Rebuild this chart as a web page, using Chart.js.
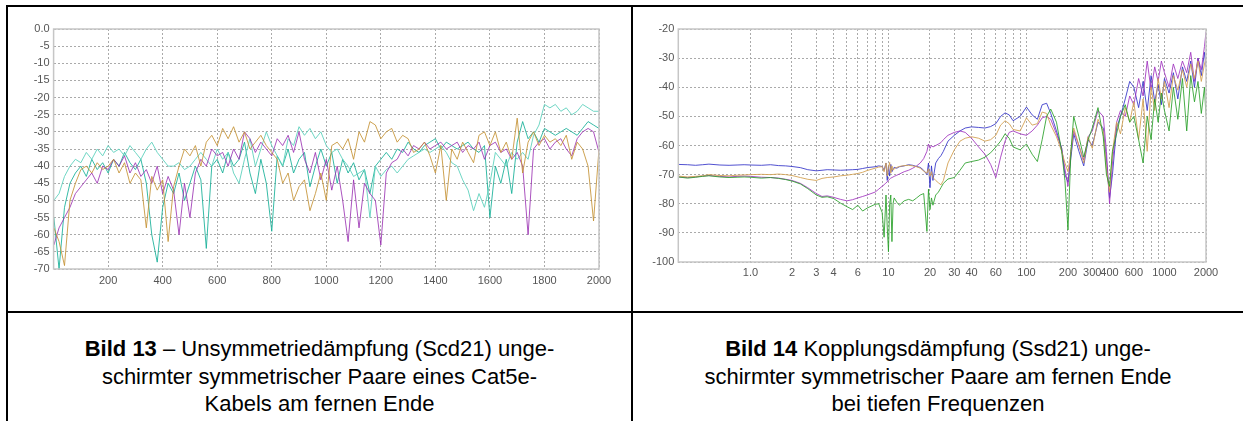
<!DOCTYPE html>
<html>
<head>
<meta charset="utf-8">
<script src="https://cdn.jsdelivr.net/npm/chart.js@4/dist/chart.umd.min.js"></script>
<style>
  body { margin: 0; background: #fff; width: 1243px; height: 421px; overflow: hidden; position: relative; font-family: "Liberation Sans", Arial, sans-serif; }
  .ln { position: absolute; background: #000; }
  canvas { position: absolute; }
  .cap { position: absolute; text-align: center; font-size: 22px; line-height: 27.5px; color: #000; }
</style>
</head>
<body>
<div class="ln" style="left:6px;top:5px;width:1237px;height:2px"></div>
<div class="ln" style="left:6px;top:5px;width:2px;height:416px"></div>
<div class="ln" style="left:631px;top:5px;width:2px;height:416px"></div>
<div class="ln" style="left:6px;top:311px;width:1237px;height:2px"></div>

<canvas id="scdChart" width="622" height="304" style="left:8px;top:7px"></canvas>
<canvas id="ssdChart" width="610" height="304" style="left:633px;top:7px"></canvas>

<div class="cap" style="left:8px;top:335px;width:623px"><b>Bild 13</b> – Unsymmetriedämpfung (Scd21) unge-<br>schirmter symmetrischer Paare eines Cat5e-<br>Kabels am fernen Ende</div>
<div class="cap" style="left:633px;top:335px;width:610px"><b>Bild 14</b> Kopplungsdämpfung (Ssd21) unge-<br>schirmter symmetrischer Paare am fernen Ende<br>bei tiefen Frequenzen</div>

<script>
// Bild 13: Scd21, MHz (linear)
var scdFreq = [1,20,40,60,80,100,120,140,160,180,200,220,240,260,280,300,320,340,360,380,400,420,440,460,480,500,520,540,560,580,600,620,640,660,680,700,720,740,760,780,800,820,840,860,880,900,920,940,960,980,1000,1020,1040,1060,1080,1100,1120,1140,1160,1180,1200,1220,1240,1260,1280,1300,1320,1340,1360,1380,1400,1420,1440,1460,1480,1500,1520,1540,1560,1580,1600,1620,1640,1660,1680,1700,1720,1740,1760,1780,1800,1820,1840,1860,1880,1900,1920,1940,1960,1980,2000];
var scdGold = [-58,-62,-69,-50,-45,-41,-40,-42,-39,-41,-40,-38,-42,-39,-45,-42,-44,-58,-43,-47,-44,-62,-46,-40,-35,-37,-34,-40,-33,-31,-34,-29,-32,-28.5,-33,-30,-35,-33,-31,-34,-36,-38,-45,-42,-50,-46,-44,-53,-48,-42,-50,-34,-33,-35,-32,-38,-30,-33,-27,-28,-32,-30,-29,-33,-31,-32,-36,-35,-33,-37,-42,-34,-50,-35,-38,-33,-36,-39,-31,-30,-34,-30,-36,-33,-38,-26,-42,-33,-30,-34,-31,-33,-32,-34,-31,-38,-33,-35,-40,-56,-35];
var scdPurple = [-63,-58,-55,-52,-48,-46,-44,-42,-45,-40,-41,-38,-40,-37,-42,-39,-43,-41,-45,-40,-48,-43,-47,-60,-45,-55,-42,-38,-40,-35,-37,-36,-40,-35,-38,-30,-32,-36,-33,-35,-37,-32,-34,-31,-36,-30,-38,-42,-36,-44,-38,-47,-40,-50,-62,-44,-58,-45,-48,-50,-63,-42,-39,-38,-35,-37,-34,-35,-33,-35,-34,-33,-35,-34,-33,-36,-34,-35,-33,-38,-34,-33,-36,-35,-38,-36,-40,-60,-35,-33,-32,-35,-33,-32,-35,-37,-32,-30,-29,-30,-36];
var scdTeal = [-55,-70,-52,-45,-42,-40,-43,-38,-41,-39,-42,-38,-40,-36,-39,-41,-38,-45,-60,-68,-52,-45,-48,-42,-50,-45,-40,-44,-64,-40,-38,-42,-36,-40,-38,-33,-42,-48,-38,-45,-59,-37,-40,-35,-42,-38,-36,-46,-40,-35,-40,-36,-45,-38,-42,-39,-44,-41,-48,-40,-38,-36,-38,-35,-36,-33,-35,-36,-34,-33,-32,-35,-33,-34,-35,-34,-33,-35,-36,-34,-55,-40,-45,-38,-48,-33,-27,-32,-30,-33,-29,-30,-31,-30,-29,-30,-31,-29,-27,-28,-29];
var scdAqua = [-50,-48,-43,-40,-38,-39,-36,-38,-35,-37,-34,-36,-35,-37,-34,-36,-38,-35,-33,-36,-38,-40,-40,-39,-41,-40,-38,-36,-38,-40,-35,-38,-36,-42,-45,-38,-32,-40,-35,-30,-34,-37,-40,-32,-34,-28.5,-31,-29,-32,-30,-34,-36,-35,-38,-40,-43,-42,-41,-55,-40,-43,-41,-40,-42,-40,-38,-37,-36,-35,-36,-35,-34,-36,-39,-40,-44,-47,-53,-48,-52,-45,-36,-38,-40,-36,-38,-36,-38,-31,-28,-22,-23,-22,-24,-23,-25,-24,-22,-23,-24,-24];
var scdYTicks = [0,-5,-10,-15,-20,-25,-30,-35,-40,-45,-50,-55,-60,-65,-70];

// Bild 14: Ssd21, MHz (logarithmisch)
var ssdFreq = [0.3,0.35,0.4,0.45,0.5,0.6,0.7,0.8,0.9,1.0,1.2,1.4,1.6,1.8,2.0,2.3,2.6,3.0,3.3,3.6,4.0,4.5,5.0,5.5,6.0,6.5,7.0,8.0,8.5,9.0,9.3,9.6,9.8,10,10.2,10.4,10.6,10.8,11,11.5,12,13,14,15,16,17,18,19,19.5,20,20.5,21,22,23,24,25,27,30,33,36,40,45,50,55,60,65,70,75,80,90,100,110,120,130,140,150,165,180,190,200,210,220,240,260,280,300,330,360,380,400,420,450,480,520,560,600,650,700,750,800,850,900,950,1000,1080,1160,1250,1350,1450,1550,1650,1750,1850,1950,2000];
var ssdBlue = [-66.5,-66.6,-66.8,-66.6,-66.4,-66.7,-66.8,-66.7,-66.6,-66.7,-66.8,-66.6,-66.9,-67.0,-67.2,-67.6,-68.3,-68.7,-68.5,-68.3,-68.4,-68.5,-68.4,-68.3,-68.2,-67.9,-67.6,-67.3,-67.0,-67.2,-68.5,-66.0,-72.0,-67.0,-70.5,-66.5,-69.0,-68.0,-67.5,-67.8,-67.3,-67.0,-66.6,-66.8,-67.2,-67.5,-68.5,-70.0,-66.0,-74.5,-67.0,-72.0,-66.0,-64.5,-63.5,-62.0,-58.5,-56.5,-55.0,-54.0,-53.6,-53.8,-54.0,-53.5,-52.5,-50.0,-48.8,-49.5,-51.5,-50.0,-46.8,-49.5,-51.0,-46.0,-45.5,-49.0,-55.0,-61.0,-70.0,-72.5,-64.0,-56.0,-62.0,-67.0,-58.0,-60.0,-52.0,-54.0,-65.0,-78.0,-70.0,-54.0,-50.0,-44.0,-38.0,-40.0,-47.0,-38.0,-48.0,-36.0,-45.0,-39.0,-46.0,-37.0,-42.0,-35.0,-44.0,-33.0,-38.0,-31.0,-40.0,-30.0,-36.0,-28.0,-33.0];
var ssdGold = [-70.5,-70.8,-70.6,-70.4,-70.0,-70.3,-70.4,-70.2,-70.1,-70.0,-69.9,-70.0,-69.8,-70.0,-70.3,-71.0,-71.6,-72.0,-71.3,-71.0,-70.8,-70.4,-70.2,-69.9,-69.6,-69.2,-68.6,-67.8,-67.4,-67.3,-69.0,-66.0,-70.5,-67.5,-65.8,-69.5,-67.0,-68.5,-68.0,-67.5,-67.2,-66.9,-66.8,-67.0,-67.3,-67.8,-68.8,-69.5,-68.0,-70.5,-69.0,-71.0,-72.0,-72.8,-73.5,-72.0,-66.0,-61.5,-58.5,-57.5,-57.0,-57.5,-58.5,-58.0,-56.5,-53.0,-51.5,-52.5,-54.5,-55.0,-50.5,-53.0,-52.5,-48.5,-49.0,-53.0,-57.0,-62.0,-66.0,-69.0,-62.0,-54.0,-60.0,-66.0,-57.0,-61.0,-51.0,-55.0,-68.0,-76.0,-62.0,-52.0,-56.0,-47.0,-52.0,-45.0,-58.0,-44.0,-62.0,-40.0,-48.0,-37.0,-44.0,-38.0,-47.0,-36.0,-41.0,-34.0,-40.0,-32.0,-37.0,-31.0,-38.0,-32.0,-30.0];
var ssdPurple = [-70.8,-71.0,-70.8,-70.5,-70.3,-70.6,-70.8,-70.6,-70.5,-70.6,-70.9,-71.0,-71.2,-71.6,-72.0,-73.0,-74.5,-76.5,-77.5,-77.3,-77.8,-78.5,-79.0,-78.6,-78.0,-77.5,-77.0,-76.0,-75.0,-74.0,-73.5,-72.8,-72.5,-72.0,-71.5,-71.2,-71.0,-70.8,-70.6,-70.2,-69.8,-69.0,-68.5,-67.8,-67.0,-66.0,-64.5,-62.0,-59.5,-61.0,-60.0,-60.5,-60.0,-59.5,-59.0,-58.0,-56.5,-55.5,-55.0,-55.5,-57.5,-60.5,-63.0,-66.5,-71.0,-64.0,-58.5,-55.5,-55.0,-56.0,-56.5,-55.0,-53.0,-50.5,-50.0,-51.0,-56.0,-61.0,-68.0,-74.0,-62.0,-55.0,-60.0,-65.0,-57.0,-55.0,-48.0,-50.0,-62.0,-80.0,-66.0,-52.0,-48.0,-50.0,-43.0,-46.0,-37.0,-43.0,-31.0,-41.0,-33.0,-38.0,-31.0,-35.0,-40.0,-32.0,-37.0,-31.0,-35.0,-28.0,-38.0,-30.0,-34.0,-26.0,-21.0];
var ssdGreen = [-70.8,-71.2,-70.9,-70.6,-70.4,-70.8,-71.0,-70.9,-70.8,-70.9,-71.2,-71.0,-71.3,-71.7,-72.2,-73.2,-74.8,-77.0,-77.8,-77.6,-78.2,-79.8,-81.0,-82.0,-80.5,-82.5,-81.5,-80.2,-80.0,-83.0,-91.5,-77.0,-88.0,-96.5,-80.0,-77.0,-93.0,-80.0,-78.0,-79.5,-80.5,-79.0,-78.5,-79.0,-78.0,-77.0,-76.5,-89.5,-75.0,-82.0,-78.0,-80.5,-77.0,-76.0,-74.5,-73.0,-71.5,-71.0,-68.5,-66.0,-65.5,-65.0,-64.0,-62.5,-60.5,-58.5,-56.0,-57.5,-60.5,-61.5,-59.5,-63.0,-65.5,-58.0,-50.0,-47.5,-52.0,-62.0,-72.0,-89.0,-62.0,-50.0,-57.0,-64.0,-58.0,-54.0,-47.0,-57.0,-70.0,-74.0,-62.0,-56.0,-50.0,-46.0,-52.0,-50.0,-58.0,-66.0,-50.0,-58.0,-44.0,-52.0,-42.0,-48.0,-55.0,-40.0,-51.0,-37.0,-55.0,-36.0,-45.0,-38.0,-49.0,-40.0,-50.0];
var ssdXTicks = [1,2,3,4,5,6,7,8,9,10,20,30,40,50,60,70,80,90,100,200,300,400,500,600,700,800,900,1000,2000];
var ssdXLabels = ['1.0','2','3','4','','6','','','','10','20','30','40','','60','','','','100','200','300','400','','600','','','','1000','2000'];
var ssdYTicks = [-20,-30,-40,-50,-60,-70,-80,-90,-100];

Chart.defaults.font.family = '"Liberation Sans", Arial, sans-serif';
Chart.defaults.font.size = 11;
Chart.defaults.color = '#555';

function pts(xs, ys) {
  return xs.map(function (x, i) { return { x: x, y: ys[i] }; });
}

// heller Rahmen um die Zeichenflaeche
var frame = {
  id: 'frame',
  afterDraw: function (chart) {
    var a = chart.chartArea, ctx = chart.ctx;
    ctx.save();
    ctx.strokeStyle = '#c6c6c6';
    ctx.lineWidth = 1.5;
    ctx.strokeRect(a.left, a.top, a.right - a.left, a.bottom - a.top);
    ctx.restore();
  }
};

var gridOpts = { color: '#aaaaaa', lineWidth: 1, drawTicks: false };
var borderOpts = { display: false, dash: [2, 2] };

function ds(label, data, color) {
  return { label: label, data: data, borderColor: color, borderWidth: 1, pointRadius: 0, tension: 0, fill: false };
}

new Chart(document.getElementById('scdChart'), {
  type: 'line',
  data: {
    datasets: [
      ds('Paar 1', pts(scdFreq, scdGold), 'rgba(196,146,52,0.85)'),
      ds('Paar 2', pts(scdFreq, scdPurple), 'rgba(150,40,175,0.8)'),
      ds('Paar 3', pts(scdFreq, scdAqua), 'rgba(95,210,190,0.9)'),
      ds('Paar 4', pts(scdFreq, scdTeal), 'rgba(20,175,150,0.85)')
    ]
  },
  options: {
    responsive: false,
    animation: false,
    layout: { padding: { left: 0, top: 22, right: 31, bottom: 22 } },
    plugins: { legend: { display: false }, tooltip: { enabled: false } },
    scales: {
      x: {
        type: 'linear', min: 0, max: 2000,
        grid: gridOpts, border: borderOpts,
        ticks: { stepSize: 200, padding: 5, maxRotation: 0, callback: function (v) { return v === 0 ? '' : v; } },
        afterFit: function (s) { s.height = 20; }
      },
      y: {
        min: -70, max: 0,
        grid: gridOpts, border: borderOpts,
        afterBuildTicks: function (s) { s.ticks = scdYTicks.map(function (v) { return { value: v }; }); },
        ticks: { padding: 4, callback: function (v) { return v === 0 ? '0.0' : v; } },
        afterFit: function (s) { s.width = 45.6; }
      }
    }
  },
  plugins: [frame]
});

new Chart(document.getElementById('ssdChart'), {
  type: 'line',
  data: {
    datasets: [
      ds('Paar 1', pts(ssdFreq, ssdGreen), 'rgba(40,160,40,0.85)'),
      ds('Paar 2', pts(ssdFreq, ssdGold), 'rgba(212,162,84,0.9)'),
      ds('Paar 3', pts(ssdFreq, ssdPurple), 'rgba(160,50,190,0.85)'),
      ds('Paar 4', pts(ssdFreq, ssdBlue), 'rgba(50,50,200,0.85)')
    ]
  },
  options: {
    responsive: false,
    animation: false,
    layout: { padding: { left: 0, top: 22, right: 37, bottom: 29 } },
    plugins: { legend: { display: false }, tooltip: { enabled: false } },
    scales: {
      x: {
        type: 'logarithmic', min: 0.3, max: 2000,
        grid: gridOpts, border: borderOpts,
        afterBuildTicks: function (s) { s.ticks = ssdXTicks.map(function (v) { return { value: v }; }); },
        ticks: { padding: 4, maxRotation: 0, autoSkip: false, callback: function (v, i) { return ssdXLabels[i]; } },
        afterFit: function (s) { s.height = 20; }
      },
      y: {
        min: -100, max: -20,
        grid: gridOpts, border: borderOpts,
        afterBuildTicks: function (s) { s.ticks = ssdYTicks.map(function (v) { return { value: v }; }); },
        ticks: { padding: 4 },
        afterFit: function (s) { s.width = 45.3; }
      }
    }
  },
  plugins: [frame]
});
</script>
</body>
</html>
